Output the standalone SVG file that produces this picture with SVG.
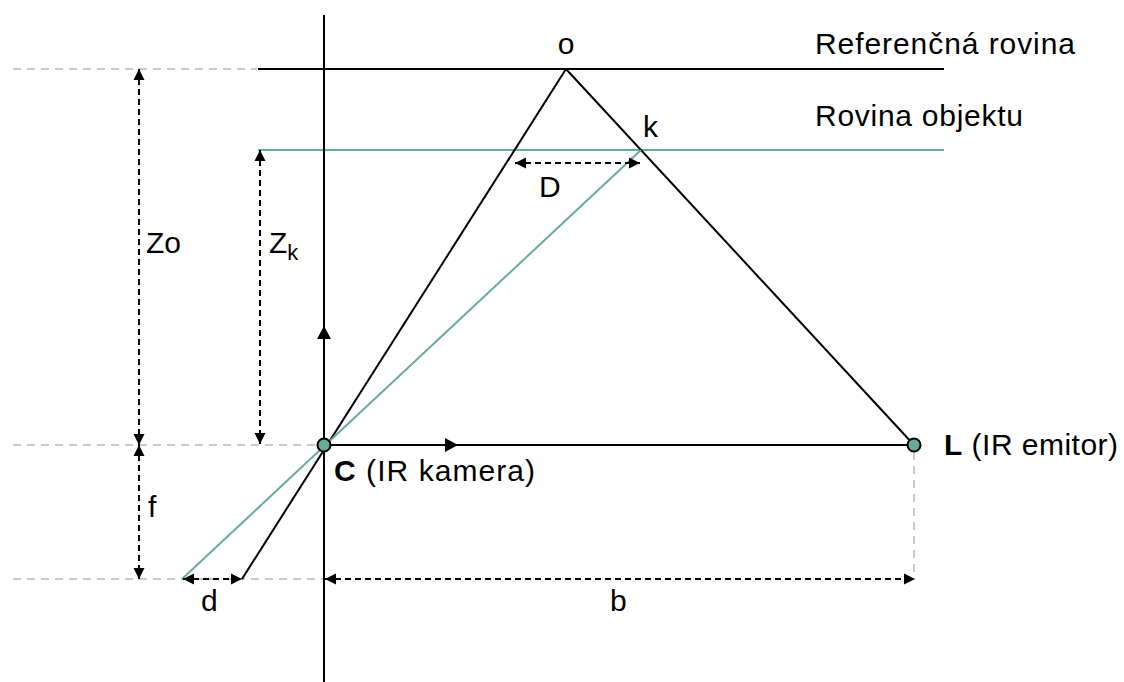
<svg xmlns="http://www.w3.org/2000/svg" width="1124" height="682" viewBox="0 0 1124 682">
<style>
.ln{stroke:#000;stroke-width:2;fill:none}
.tl{stroke:#67AB9F;stroke-width:2;fill:none}
.gr{stroke:#C8C8C8;stroke-width:2;fill:none;stroke-dasharray:8 6}
.dim{stroke:#000;stroke-width:2;fill:none;stroke-dasharray:6 4;marker-start:url(#ah);marker-end:url(#ah)}
.pt{fill:#67AB9F;stroke:#000;stroke-width:2}
text{font-family:"Liberation Sans",Arial,Helvetica,sans-serif;font-size:30px;fill:#000}
.b{font-weight:bold}
</style>
<defs>
<marker id="ah" markerUnits="userSpaceOnUse" markerWidth="12" markerHeight="12" refX="11" refY="6" orient="auto-start-reverse">
<path d="M0,0.5 L11,6 L0,11.5 z" fill="#000"/>
</marker>
</defs>
<rect width="1124" height="682" fill="#fff"/>
<g id="connectors">
<line class="gr" x1="13" y1="69" x2="257" y2="69"/>
<line class="gr" x1="13" y1="445" x2="317" y2="445"/>
<line class="gr" x1="13" y1="579" x2="324" y2="579"/>
<line class="gr" x1="914" y1="452" x2="914" y2="579"/>
<line class="ln" x1="258" y1="69" x2="944" y2="69"/>
<line class="tl" x1="258" y1="150" x2="944" y2="150"/>
<line class="ln" x1="324" y1="15" x2="324" y2="682"/>
<polygon points="324,326 317,339 331,339" fill="#000"/>
<line class="ln" x1="324" y1="445" x2="914" y2="445"/>
<polygon points="458,445 445,438 445,452" fill="#000"/>
<line class="ln" x1="566" y1="69" x2="914" y2="445"/>
<line class="ln" x1="566" y1="69" x2="242" y2="579"/>
<line class="tl" x1="641" y1="150" x2="182" y2="579"/>
<line class="dim" x1="139" y1="69" x2="139" y2="445"/>
<line class="dim" x1="260" y1="150" x2="260" y2="444"/>
<line class="dim" x1="139" y1="445" x2="139" y2="579"/>
<line class="dim" x1="183" y1="579" x2="242" y2="579"/>
<line class="dim" x1="325" y1="579" x2="915" y2="579"/>
<line class="dim" x1="515" y1="163" x2="640" y2="163"/>
</g>
<g id="node-C">
<circle class="pt" cx="324" cy="445" r="6.5"/>
<text x="334" y="481" textLength="201" lengthAdjust="spacing"><tspan class="b">C</tspan> (IR kamera)</text>
</g>
<g id="node-L">
<circle class="pt" cx="914" cy="445" r="6.5"/>
<text x="944" y="455" textLength="174" lengthAdjust="spacing"><tspan class="b">L</tspan> (IR emitor)</text>
</g>
<g id="node-o"><text x="566" y="54" text-anchor="middle">o</text></g>
<g id="node-k"><text x="643" y="137">k</text></g>
<g id="label-ref"><text x="815" y="54" textLength="260" lengthAdjust="spacing">Referenčná rovina</text></g>
<g id="label-obj"><text x="815" y="126" textLength="208" lengthAdjust="spacing">Rovina objektu</text></g>
<g id="label-Zo"><text x="146" y="253">Zo</text></g>
<g id="label-Zk"><text x="269" y="253">Z<tspan font-size="22" dy="7">k</tspan></text></g>
<g id="label-f"><text x="148" y="517">f</text></g>
<g id="label-d"><text x="201" y="611">d</text></g>
<g id="label-b"><text x="610" y="611">b</text></g>
<g id="label-D"><text x="539" y="197">D</text></g>
</svg>
